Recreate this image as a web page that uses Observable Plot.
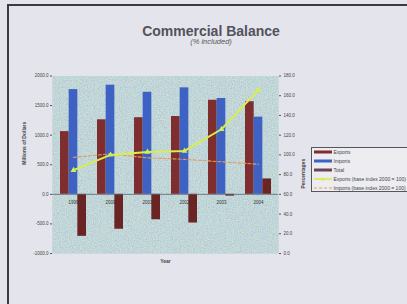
<!DOCTYPE html>
<html>
<head>
<meta charset="utf-8">
<script src="https://cdn.jsdelivr.net/npm/d3@7"></script>
<script src="https://cdn.jsdelivr.net/npm/@observablehq/plot@0.6"></script>
<style>
  html, body { margin: 0; padding: 0; }
  body { width: 407px; height: 304px; overflow: hidden; background: #e4e4ed; font-family: "Liberation Sans", Arial, sans-serif; }
  #page { position: relative; width: 407px; height: 304px; overflow: hidden; }
  #chart { position: absolute; left: 0; top: 0; }
  .abs { position: absolute; white-space: nowrap; }
  #title { left: 0; width: 422px; top: 23.6px; text-align: center; font-size: 14px; line-height: 14px; font-weight: bold; color: #52525a; }
  #subtitle { left: 0; width: 422px; top: 38.2px; text-align: center; font-size: 7.5px; line-height: 8px; font-style: italic; color: #555; }
  #frameTop { left: 7px; top: 4px; width: 400px; height: 1.6px; background: #3a3a40; }
  #frameLeft { left: 7px; top: 4px; width: 1.6px; height: 300px; background: #3a3a40; }
  #legend { left: 310.5px; top: 146.5px; width: 120px; height: 45px; border: 1px solid #55555c; background: #ececf1; box-sizing: border-box; }
  .row { position: absolute; left: 1px; height: 6px; font-size: 5px; line-height: 6px; color: #444; }
  .row svg { position: absolute; left: 0; top: 0; }
  .row span { position: absolute; left: 21px; top: 0; }
</style>
</head>
<body>
<div id="page">
  <div id="chart"></div>
  <div class="abs" id="frameTop"></div>
  <div class="abs" id="frameLeft"></div>
  <div class="abs" id="title">Commercial Balance</div>
  <div class="abs" id="subtitle">(% included)</div>
  <div class="abs" id="legend"></div>
</div>
<script>
const years = ["1999", "2000", "2001", "2002", "2003", "2004"];
const exportsM = [1060, 1260, 1295, 1315, 1590, 1565];
const importsM = [1770, 1845, 1725, 1800, 1620, 1305];
const totalM = [-710, -590, -430, -485, -30, 260];
const exportsIdx = [84.5, 100, 103, 104, 126, 166];
const importsIdx = [97.5, 101, 97, 95.5, 93, 90.5];
const leftTicks = [-1000, -500, 0, 500, 1000, 1500, 2000];
const rightTicks = [0, 20, 40, 60, 80, 100, 120, 140, 160, 180];
const seriesNames = ["Exports", "Imports", "Total", "Exports (base index 2000 = 100)", "Imports (base index 2000 = 100)"];

const colors = {exp: "#7e2e2e", imp: "#3d62c4", tot: "#6a2424", expIdx: "#d6ee4e", impIdx: "#e59b5a"};

const leftMin = -1000, leftMax = 2000, rightMax = 180;
const toLeft = v => v / rightMax * (leftMax - leftMin) + leftMin;
const fromLeft = v => (v - leftMin) / (leftMax - leftMin) * rightMax;

const table = years.map((year, i) => ({
  year,
  exports: exportsM[i],
  imports: importsM[i],
  total: totalM[i],
  expIdx: toLeft(exportsIdx[i]),
  impIdx: toLeft(importsIdx[i])
}));

const bw = 26 / 3;

const plot = Plot.plot({
  width: 407,
  height: 304,
  marginLeft: 52,
  marginRight: 129,
  marginTop: 75.5,
  marginBottom: 51,
  style: {background: "transparent", fontSize: "4.5px", fontFamily: "'Liberation Sans', Arial, sans-serif", color: "#444"},
  x: {type: "band", domain: years, paddingInner: 0.31, paddingOuter: 0.155, axis: null},
  y: {domain: [leftMin, leftMax], axis: null},
  marks: [
    Plot.frame({fill: "#acc4c6"}),
    Plot.frame({fill: "#ffffff", ariaLabel: "texture"}),
    Plot.barY(table, {x: "year", y: "exports", fill: colors.exp, insetLeft: 0, insetRight: 2 * bw}),
    Plot.barY(table, {x: "year", y: "imports", fill: colors.imp, insetLeft: bw, insetRight: bw}),
    Plot.barY(table, {x: "year", y: "total", fill: colors.tot, insetLeft: 2 * bw, insetRight: 0}),
    Plot.ruleY([0], {stroke: "#5a6068", strokeWidth: 0.8}),
    Plot.line(table, {x: "year", y: "impIdx", stroke: colors.impIdx, strokeWidth: 1.1, strokeDasharray: "3,2"}),
    Plot.line(table, {x: "year", y: "expIdx", stroke: colors.expIdx, strokeWidth: 2}),
    Plot.dot(table, {x: "year", y: "expIdx", symbol: "triangle", r: 2.2, fill: colors.expIdx}),
    Plot.text(table, {x: "year", y: 0, text: "year", dy: 8, fontSize: 4.5, fill: "#333"}),
    Plot.axisY({ticks: leftTicks, tickFormat: d => d.toFixed(1), anchor: "left", tickSize: 2, tickPadding: 2, label: null, stroke: "#555", fill: "#444"}),
    Plot.axisY(rightTicks.map(toLeft), {anchor: "right", tickFormat: d => fromLeft(d).toFixed(1), tickSize: 2, tickPadding: 3, label: null, stroke: "#555", fill: "#444"}),
    Plot.ruleX([0], {frameAnchor: "left", stroke: "#555", strokeWidth: 0.6}),
    Plot.text(["Millions of Dollars"], {frameAnchor: "left", dx: -28, rotate: -90, fontSize: 5, fontWeight: "bold", fill: "#444"}),
    Plot.text(["Percentages"], {frameAnchor: "right", dx: 25, dy: -6, rotate: -90, fontSize: 5, fontWeight: "bold", fill: "#444"}),
    Plot.text(["Year"], {frameAnchor: "bottom", dy: 9, fontSize: 5, fontWeight: "bold", fill: "#444"})
  ]
});

// granite-like texture for the plot area
const ns = "http://www.w3.org/2000/svg";
const defs = document.createElementNS(ns, "defs");
defs.innerHTML = `
<filter id="granite" x="0" y="0" width="100%" height="100%" filterUnits="objectBoundingBox">
  <feTurbulence type="fractalNoise" baseFrequency="0.85" numOctaves="2" seed="7" result="noise"/>
  <feColorMatrix in="noise" type="matrix" values="
     1.0 0 0 0 0.15
     0 1.0 0 0 0.28
     0 0 1.0 0 0.30
     0 0 0 0 0.55" result="col"/>
  <feComposite in="col" in2="SourceGraphic" operator="in"/>
</filter>`;
plot.insertBefore(defs, plot.firstChild);
const tex = plot.querySelector('[aria-label="texture"]');
if (tex) tex.setAttribute("filter", "url(#granite)");

document.getElementById("chart").appendChild(plot);

// legend
const legend = document.getElementById("legend");
const rowsY = [1.5, 10.5, 19.5, 28.5, 37.5];
const swatches = [
  `<rect x="1" y="1.5" width="18" height="3" fill="${colors.exp}"/>`,
  `<rect x="1" y="1.5" width="18" height="3" fill="${colors.imp}"/>`,
  `<rect x="1" y="1.5" width="18" height="3" fill="#6a4452"/>`,
  `<line x1="1" y1="3" x2="19" y2="3" stroke="${colors.expIdx}" stroke-width="1.6"/><path d="M10,1 L12,4.5 L8,4.5 Z" fill="${colors.expIdx}"/>`,
  `<line x1="1" y1="3" x2="19" y2="3" stroke="${colors.impIdx}" stroke-width="1.1" stroke-dasharray="3,2"/>`
];
seriesNames.forEach((name, i) => {
  const row = document.createElement("div");
  row.className = "row";
  row.style.top = rowsY[i] + "px";
  row.innerHTML = `<svg width="20" height="6">${swatches[i]}</svg><span>${name}</span>`;
  legend.appendChild(row);
});
</script>
</body>
</html>
